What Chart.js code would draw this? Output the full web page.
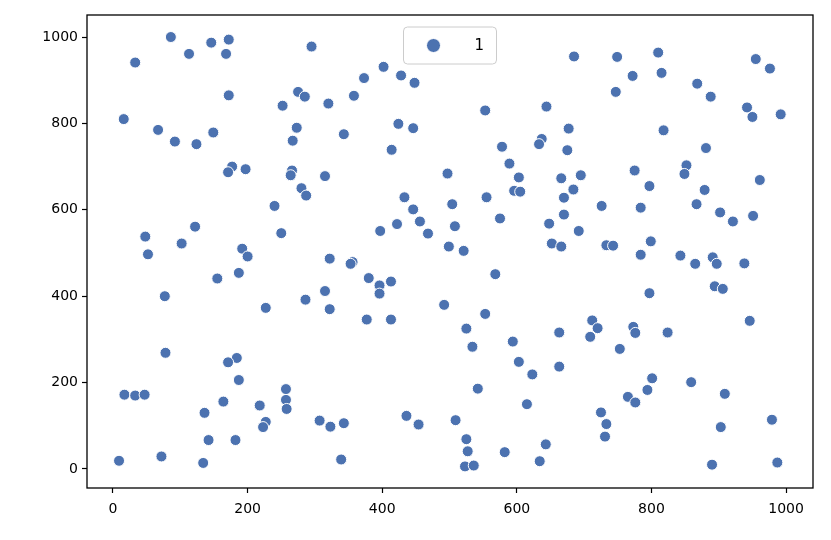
<!DOCTYPE html>
<html>
    <head>
        <title>Scatter</title>
        <script src="https://cdn.jsdelivr.net/npm/chart.js@4.4.0/dist/chart.umd.min.js"></script>
        <style>
            body { margin: 0; background: #fff; }
            #wrap { width: 831px; height: 540px; }
        </style>
    </head>
    <body>
        <div id="wrap"><canvas id="scatterChart"></canvas></div>
        <script>
            const seriesLabel = "1";

            const xValues = [
                86, 146, 172, 113, 168, 33, 172, 16, 67, 149, 92, 124, 177, 171, 197,
                295, 402, 373, 428, 448, 275, 285, 358, 252, 320, 273, 424, 446, 267, 343, 414, 266, 264, 315, 497,
                685, 749, 772, 747, 553, 644, 677, 578, 637, 633, 675, 589, 603, 666, 695, 775,
                810, 815, 955, 976, 868, 888, 942, 950, 992, 818, 881, 852, 849, 961,
                240, 122, 48, 102, 52, 192, 200, 155, 187, 77, 227,
                280, 287, 250, 433, 446, 422, 456, 397, 468, 504, 508, 499, 322, 356, 353, 380, 413, 396, 396, 315, 286, 322, 377, 413, 492,
                596, 605, 684, 670, 555, 726, 670, 575, 648, 692, 521, 652, 666, 733, 743, 568, 553, 525, 712, 720, 663, 773, 776, 709,
                797, 879, 784, 867, 902, 921, 951, 799, 784, 843, 865, 891, 897, 938, 894, 906, 797, 946, 824,
                78, 184, 171, 187, 17, 33, 47, 164, 136, 218, 227, 223, 142, 182, 9, 72, 134,
                257, 257, 258, 307, 323, 343, 339, 436, 454, 509,
                534, 594, 603, 623, 663, 753, 542, 615, 765, 725, 733, 731, 525, 527, 523, 536, 582, 643, 634,
                801, 794, 776, 859, 909, 979, 903, 890, 987
            ];
            const yValues = [
                1000, 987, 994, 961, 961, 941, 865, 810, 785, 779, 758, 752, 700, 687, 694,
                978, 931, 905, 911, 894, 873, 862, 864, 841, 846, 790, 799, 789, 760, 775, 739, 691, 680, 678, 684,
                955, 954, 910, 873, 830, 839, 788, 746, 764, 752, 738, 707, 675, 673, 680, 691,
                964, 917, 949, 927, 892, 862, 837, 815, 821, 784, 743, 703, 683, 669,
                609, 561, 538, 522, 497, 510, 492, 441, 454, 400, 373,
                650, 633, 546, 629, 601, 567, 573, 551, 545, 613, 562, 515, 487, 479, 475, 442, 434, 425, 406, 412, 392, 370, 346, 346, 380,
                644, 642, 647, 628, 629, 609, 589, 580, 568, 551, 505, 522, 515, 518, 517, 451, 359, 325, 344, 326, 316, 329, 315, 306,
                655, 646, 605, 613, 594, 573, 586, 527, 496, 494, 475, 490, 475, 476, 423, 417, 407, 343, 316,
                269, 257, 247, 206, 172, 170, 172, 156, 130, 147, 109, 97, 67, 67, 19, 29, 14,
                185, 160, 139, 112, 98, 106, 22, 123, 103, 113,
                283, 295, 248, 219, 237, 278, 186, 150, 167, 131, 104, 75, 69, 41, 6, 8, 39, 57, 18,
                210, 183, 154, 201, 174, 114, 97, 10, 15
            ];

            const xTicks = [0, 200, 400, 600, 800, 1000];
            const yTicks = [0, 200, 400, 600, 800, 1000];

            const pointColor = "#4c72b0";
            const tickFont = { family: "DejaVu Sans", size: 14 };

            // matplotlib style frame round the plot area
            const framePlugin = {
                id: "frame",
                afterDraw: (chart) => {
                    const { ctx, chartArea } = chart;
                    ctx.save();
                    ctx.strokeStyle = "#000";
                    ctx.lineWidth = 1.3;
                    ctx.strokeRect(chartArea.left, chartArea.top, chartArea.right - chartArea.left, chartArea.bottom - chartArea.top);
                    ctx.restore();
                }
            };

            // legend box inside the plot, upper center
            const innerLegendPlugin = {
                id: "innerLegend",
                afterDraw: (chart) => {
                    const { ctx, chartArea } = chart;
                    const ds = chart.data.datasets[0];
                    const w = 93, h = 37;
                    const cx = (chartArea.left + chartArea.right) / 2;
                    const x = cx - w / 2, y = chartArea.top + 12;
                    ctx.save();
                    ctx.beginPath();
                    ctx.roundRect(x, y, w, h, 4);
                    ctx.fillStyle = "rgba(255,255,255,0.8)";
                    ctx.fill();
                    ctx.strokeStyle = "#cccccc";
                    ctx.lineWidth = 1;
                    ctx.stroke();
                    ctx.beginPath();
                    ctx.arc(x + 30, y + h / 2, 7, 0, Math.PI * 2);
                    ctx.fillStyle = ds.backgroundColor;
                    ctx.fill();
                    ctx.strokeStyle = "#fff";
                    ctx.stroke();
                    ctx.fillStyle = "#000";
                    ctx.font = "15px 'DejaVu Sans'";
                    ctx.textBaseline = "middle";
                    ctx.fillText(ds.label, x + 71, y + h / 2 + 1);
                    ctx.restore();
                }
            };

            const points = xValues.map((x, i) => ({ x: x, y: yValues[i] }));

            const chart = new Chart(document.getElementById("scatterChart"), {
                type: "scatter",
                data: {
                    datasets: [{
                        label: seriesLabel,
                        data: points,
                        backgroundColor: pointColor,
                        borderColor: "#ffffff",
                        borderWidth: 1,
                        pointRadius: 5.5,
                    }]
                },
                options: {
                    responsive: true,
                    maintainAspectRatio: false,
                    animation: false,
                    layout: { padding: { top: 15, right: 18, left: 0, bottom: 0 } },
                    plugins: {
                        legend: { display: false },
                        tooltip: { enabled: false },
                    },
                    scales: {
                        x: {
                            type: "linear",
                            min: -38.6,
                            max: 1040,
                            afterBuildTicks: (scale) => { scale.ticks = xTicks.map(v => ({ value: v })); },
                            afterFit: (scale) => { scale.height = 52; },
                            grid: { drawOnChartArea: false, drawTicks: true, tickLength: 5, color: "#000", tickWidth: 1.2 },
                            border: { display: false },
                            ticks: { color: "#000", font: tickFont, padding: 8, maxRotation: 0, callback: (v) => String(v) },
                        },
                        y: {
                            type: "linear",
                            min: -44,
                            max: 1051,
                            afterBuildTicks: (scale) => { scale.ticks = yTicks.map(v => ({ value: v })); },
                            afterFit: (scale) => { scale.width = 87; },
                            grid: { drawOnChartArea: false, drawTicks: true, tickLength: 5, color: "#000", tickWidth: 1.2 },
                            border: { display: false },
                            ticks: { color: "#000", font: tickFont, padding: 4, callback: (v) => String(v) },
                        },
                    },
                },
                plugins: [framePlugin, innerLegendPlugin],
            });
        </script>
    </body>
</html>
